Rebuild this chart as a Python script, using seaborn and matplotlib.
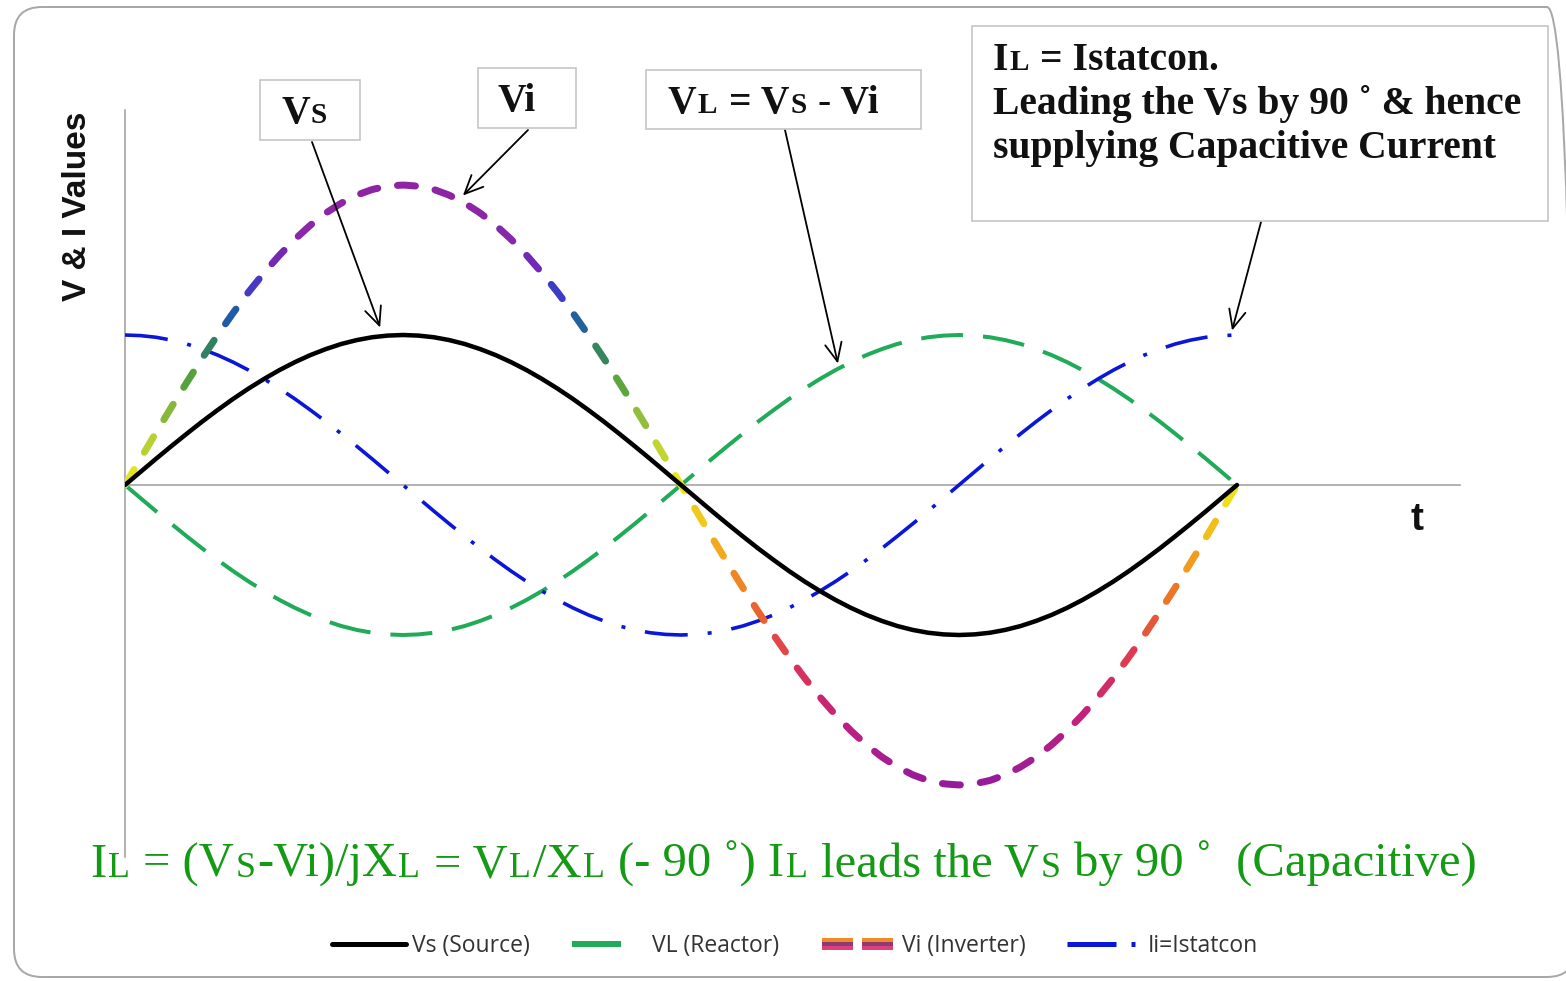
import numpy as np
import matplotlib
matplotlib.use("Agg")
import matplotlib.pyplot as plt
import seaborn as sns
from matplotlib.lines import Line2D
from matplotlib.collections import LineCollection
from matplotlib.colors import LinearSegmentedColormap, Normalize
from matplotlib.patches import Rectangle, FancyBboxPatch
from matplotlib.transforms import IdentityTransform
from matplotlib.legend_handler import HandlerBase

# ---- waveform samples over one cycle, every 5 degrees ----
angle_deg = np.arange(0, 361, 5)
vs_source = [0, 0.087, 0.174, 0.259, 0.342, 0.423, 0.500, 0.574, 0.643, 0.707, 0.766, 0.819,
             0.866, 0.906, 0.940, 0.966, 0.985, 0.996, 1.000, 0.996, 0.985, 0.966, 0.940,
             0.906, 0.866, 0.819, 0.766, 0.707, 0.643, 0.574, 0.500, 0.423, 0.342, 0.259,
             0.174, 0.087, 0,
             -0.087, -0.174, -0.259, -0.342, -0.423, -0.500, -0.574, -0.643, -0.707, -0.766,
             -0.819, -0.866, -0.906, -0.940, -0.966, -0.985, -0.996, -1.000, -0.996, -0.985,
             -0.966, -0.940, -0.906, -0.866, -0.819, -0.766, -0.707, -0.643, -0.574, -0.500,
             -0.423, -0.342, -0.259, -0.174, -0.087, 0]
vi_inverter = [0, 0.174, 0.348, 0.518, 0.684, 0.845, 1.000, 1.147, 1.286, 1.414, 1.532, 1.638,
               1.732, 1.813, 1.879, 1.932, 1.970, 1.992, 2.000, 1.992, 1.970, 1.932, 1.879,
               1.813, 1.732, 1.638, 1.532, 1.414, 1.286, 1.147, 1.000, 0.845, 0.684, 0.518,
               0.348, 0.174, 0,
               -0.174, -0.348, -0.518, -0.684, -0.845, -1.000, -1.147, -1.286, -1.414, -1.532,
               -1.638, -1.732, -1.813, -1.879, -1.932, -1.970, -1.992, -2.000, -1.992, -1.970,
               -1.932, -1.879, -1.813, -1.732, -1.638, -1.532, -1.414, -1.286, -1.147, -1.000,
               -0.845, -0.684, -0.518, -0.348, -0.174, 0]
vl_reactor = [0, -0.087, -0.174, -0.259, -0.342, -0.423, -0.500, -0.574, -0.643, -0.707, -0.766,
              -0.819, -0.866, -0.906, -0.940, -0.966, -0.985, -0.996, -1.000, -0.996, -0.985,
              -0.966, -0.940, -0.906, -0.866, -0.819, -0.766, -0.707, -0.643, -0.574, -0.500,
              -0.423, -0.342, -0.259, -0.174, -0.087, 0,
              0.087, 0.174, 0.259, 0.342, 0.423, 0.500, 0.574, 0.643, 0.707, 0.766, 0.819,
              0.866, 0.906, 0.940, 0.966, 0.985, 0.996, 1.000, 0.996, 0.985, 0.966, 0.940,
              0.906, 0.866, 0.819, 0.766, 0.707, 0.643, 0.574, 0.500, 0.423, 0.342, 0.259,
              0.174, 0.087, 0]
i_statcon = [1.000, 0.996, 0.985, 0.966, 0.940, 0.906, 0.866, 0.819, 0.766, 0.707, 0.643, 0.574,
             0.500, 0.423, 0.342, 0.259, 0.174, 0.087, 0,
             -0.087, -0.174, -0.259, -0.342, -0.423, -0.500, -0.574, -0.643, -0.707, -0.766,
             -0.819, -0.866, -0.906, -0.940, -0.966, -0.985, -0.996, -1.000, -0.996, -0.985,
             -0.966, -0.940, -0.906, -0.866, -0.819, -0.766, -0.707, -0.643, -0.574, -0.500,
             -0.423, -0.342, -0.259, -0.174, -0.087, 0,
             0.087, 0.174, 0.259, 0.342, 0.423, 0.500, 0.574, 0.643, 0.707, 0.766, 0.819,
             0.866, 0.906, 0.940, 0.966, 0.985, 0.996, 1.000]

legend_labels = ["Vs (Source)", "VL (Reactor)", "Vi (Inverter)", "Ii=Istatcon"]

W, H, DPI = 1566, 981, 100
PX = 72 / DPI  # points per pixel

sns.set_theme(style="white")
plt.rcParams["lines.scale_dashes"] = False
plt.rcParams["font.family"] = ["DejaVu Sans"]

fig = plt.figure(figsize=(W / DPI, H / DPI), dpi=DPI)
fig.patch.set_facecolor("white")


def fx(px):
    return px / W


def fy(py):
    return 1 - py / H


ax = fig.add_axes([fx(125), fy(857), (1460 - 125) / W, (857 - 110) / H])
ax.set_xlim(0, 432.2)
ax.set_ylim(-2.48, 2.5)
ax.set_facecolor("none")
for side in ("top", "right"):
    ax.spines[side].set_visible(False)
for side in ("left", "bottom"):
    ax.spines[side].set_color("#9a9a9a")
    ax.spines[side].set_linewidth(1.5 * PX)
ax.spines["bottom"].set_position(("data", 0))
ax.set_xticks([])
ax.set_yticks([])

GREEN = "#1fab58"
BLUE = "#0a16d8"

sns.lineplot(x=angle_deg, y=vl_reactor, ax=ax, color=GREEN, lw=4 * PX, zorder=2)
ax.lines[-1].set_dashes((42 * PX, 20 * PX))
ax.lines[-1].set_dash_capstyle("butt")
sns.lineplot(x=angle_deg, y=i_statcon, ax=ax, color=BLUE, lw=3.6 * PX, zorder=3)
ax.lines[-1].set_dashes((43 * PX, 20 * PX, 4 * PX, 20 * PX))
sns.lineplot(x=angle_deg, y=vs_source, ax=ax, color="black", lw=4.5 * PX, zorder=5)

# ---- Vi: thick rounded dashes, each coloured by its instantaneous value ----
vi_cmap = LinearSegmentedColormap.from_list("vi", [
    (0.000, "#961c9a"), (0.100, "#be1f82"), (0.200, "#dc3556"), (0.300, "#ec6a28"),
    (0.400, "#f4ae1c"), (0.500, "#eee81a"), (0.5875, "#a9c93a"), (0.675, "#55a23c"),
    (0.750, "#237470"), (0.800, "#2149cf"), (0.8625, "#6a2ab8"), (0.925, "#8a28a8"),
    (1.000, "#8e24a4")])
vi_norm = Normalize(-2, 2)

pts = ax.transData.transform(np.column_stack([angle_deg, vi_inverter]))
seg = np.hypot(np.diff(pts[:, 0]), np.diff(pts[:, 1]))
cum = np.concatenate([[0], np.cumsum(seg)])
dash_on, dash_off = 18.0, 20.0
pieces, piece_vals = [], []
s = 0.0
inv = ax.transData.inverted()
while s < cum[-1]:
    e = min(s + dash_on, cum[-1])
    ss = np.linspace(s, e, 6)
    xy = np.column_stack([np.interp(ss, cum, pts[:, 0]), np.interp(ss, cum, pts[:, 1])])
    pieces.append(inv.transform(xy))
    piece_vals.append(np.interp((s + e) / 2, cum, vi_inverter))
    s += dash_on + dash_off
vi_lines = LineCollection(pieces, colors=vi_cmap(vi_norm(piece_vals)),
                          linewidths=7 * PX, capstyle="round", zorder=4)
ax.add_collection(vi_lines)

# ---- rich text with small-cap subscripts ----
SC = 0.74


def rich(x, y, parts, size, **kw):
    r = fig.canvas.get_renderer()
    ppt = DPI / 72
    for txt, small in parts:
        sz = size * SC if small else size
        lead = len(txt) - len(txt.lstrip(" "))
        trail = len(txt) - len(txt.rstrip(" "))
        core = txt.strip(" ")
        x += lead * 0.25 * size * ppt
        t = fig.text(fx(x), fy(y), core, fontsize=sz, ha="left", va="baseline", **kw)
        bb = t.get_window_extent(r)
        x = bb.x1 + trail * 0.25 * size * ppt + 0.03 * size * ppt
    return x


box_font = dict(family="Liberation Serif", weight="bold", color="#111111", zorder=10)
BOX_SIZE = 28.5

# callout boxes
for (x0, y0, x1, y1) in [(260, 80, 360, 140), (478, 68, 576, 128),
                         (646, 70, 921, 129), (972, 26, 1548, 221)]:
    fig.add_artist(Rectangle((fx(x0), fy(y1)), (x1 - x0) / W, (y1 - y0) / H,
                             transform=fig.transFigure, facecolor="white",
                             edgecolor="#c4c4c4", lw=1.6 * PX, zorder=9))

rich(281, 123, [("V", False), ("S", True)], BOX_SIZE, **box_font)
rich(497, 111, [("Vi", False)], BOX_SIZE, **box_font)
rich(668, 113, [("V", False), ("L", True), (" = V", False), ("S", True), (" - Vi", False)],
     BOX_SIZE, **box_font)
rich(993, 70, [("I", False), ("L", True), (" = Istatcon.", False)], BOX_SIZE, **box_font)
rich(993, 114, [("Leading the Vs by 90 ˚ & hence", False)], BOX_SIZE, **box_font)
rich(993, 158, [("supplying Capacitive Current", False)], BOX_SIZE, **box_font)

# arrows from callouts to the curves
arrow_kw = dict(arrowstyle="->,head_length=1.1,head_width=0.5", color="black",
                lw=1.8 * PX, shrinkA=0, shrinkB=0)
for tip, tail in [((82.6, 1.05), (312, 142)), ((109.4, 1.93), (528, 130)),
                  ((230.8, 0.81), (785, 130)), ((358.4, 1.03), (1261, 222))]:
    ax.annotate("", xy=tip, xycoords="data", xytext=(tail[0], H - tail[1]),
                textcoords="figure pixels", arrowprops=arrow_kw, zorder=8)

# formula line
rich(90, 877, [("I", False), ("L", True), (" = (V", False), ("S", True), ("-Vi)/jX", False),
               ("L", True), (" = V", False), ("L", True), ("/X", False), ("L", True),
               (" (- 90 ˚) I", False), ("L", True), (" leads the V", False), ("S", True),
               (" by 90 ˚  (Capacitive)", False)],
     35.0, family="Liberation Serif", color="#149a14")

# axis captions
fig.text(fx(78), fy(206), "V & I Values", rotation=90, ha="center", va="center",
         fontsize=24, fontweight="bold", family="Liberation Sans", color="#111111")
fig.text(fx(1417), fy(520), "t", ha="center", va="center",
         fontsize=28, fontweight="bold", family="Liberation Sans", color="#111111")


# ---- legend ----
class ViProxy:
    pass


class StripedDash(HandlerBase):
    def create_artists(self, legend, orig_handle, xdescent, ydescent, width, height,
                       fontsize, trans):
        y0 = height / 2 - ydescent
        arts = []
        for c, off in [("#f08a24", 2.9), ("#8c3a78", 0.0), ("#e0407a", -2.9)]:
            ln = Line2D([-xdescent, -xdescent + width], [y0 + off, y0 + off], color=c,
                        lw=4.0 * PX, dashes=(31 * PX, 9 * PX), dash_capstyle="butt")
            ln.set_transform(trans)
            arts.append(ln)
        return arts


h_vs = Line2D([], [], color="black", lw=5 * PX)
h_vl = Line2D([], [], color=GREEN, lw=6 * PX, dashes=(49 * PX, 60 * PX), dash_capstyle="butt")
h_vi = ViProxy()
h_ii = Line2D([], [], color=BLUE, lw=5 * PX, dashes=(49 * PX, 15 * PX, 4 * PX, 40 * PX),
              dash_capstyle="butt")

FS = 16.5
fspx = FS * DPI / 72
fig.legend([h_vs, h_vl, h_vi, h_ii], legend_labels, loc="center",
           bbox_to_anchor=(fx(795), fy(946)), ncol=4, frameon=False,
           prop=dict(family="Open Sans", size=FS), labelcolor="#333333",
           handlelength=74 / fspx, handletextpad=6 / fspx, columnspacing=42 / fspx,
           handler_map={ViProxy: StripedDash()})

# outer rounded frame
fig.add_artist(FancyBboxPatch((14, 4), 1561, 970, boxstyle="round,pad=0,rounding_size=28",
                              transform=IdentityTransform(), facecolor="none",
                              edgecolor="#a8a8a8", lw=2 * PX, zorder=0))

fig.savefig("out.png", dpi=DPI, facecolor="white")
